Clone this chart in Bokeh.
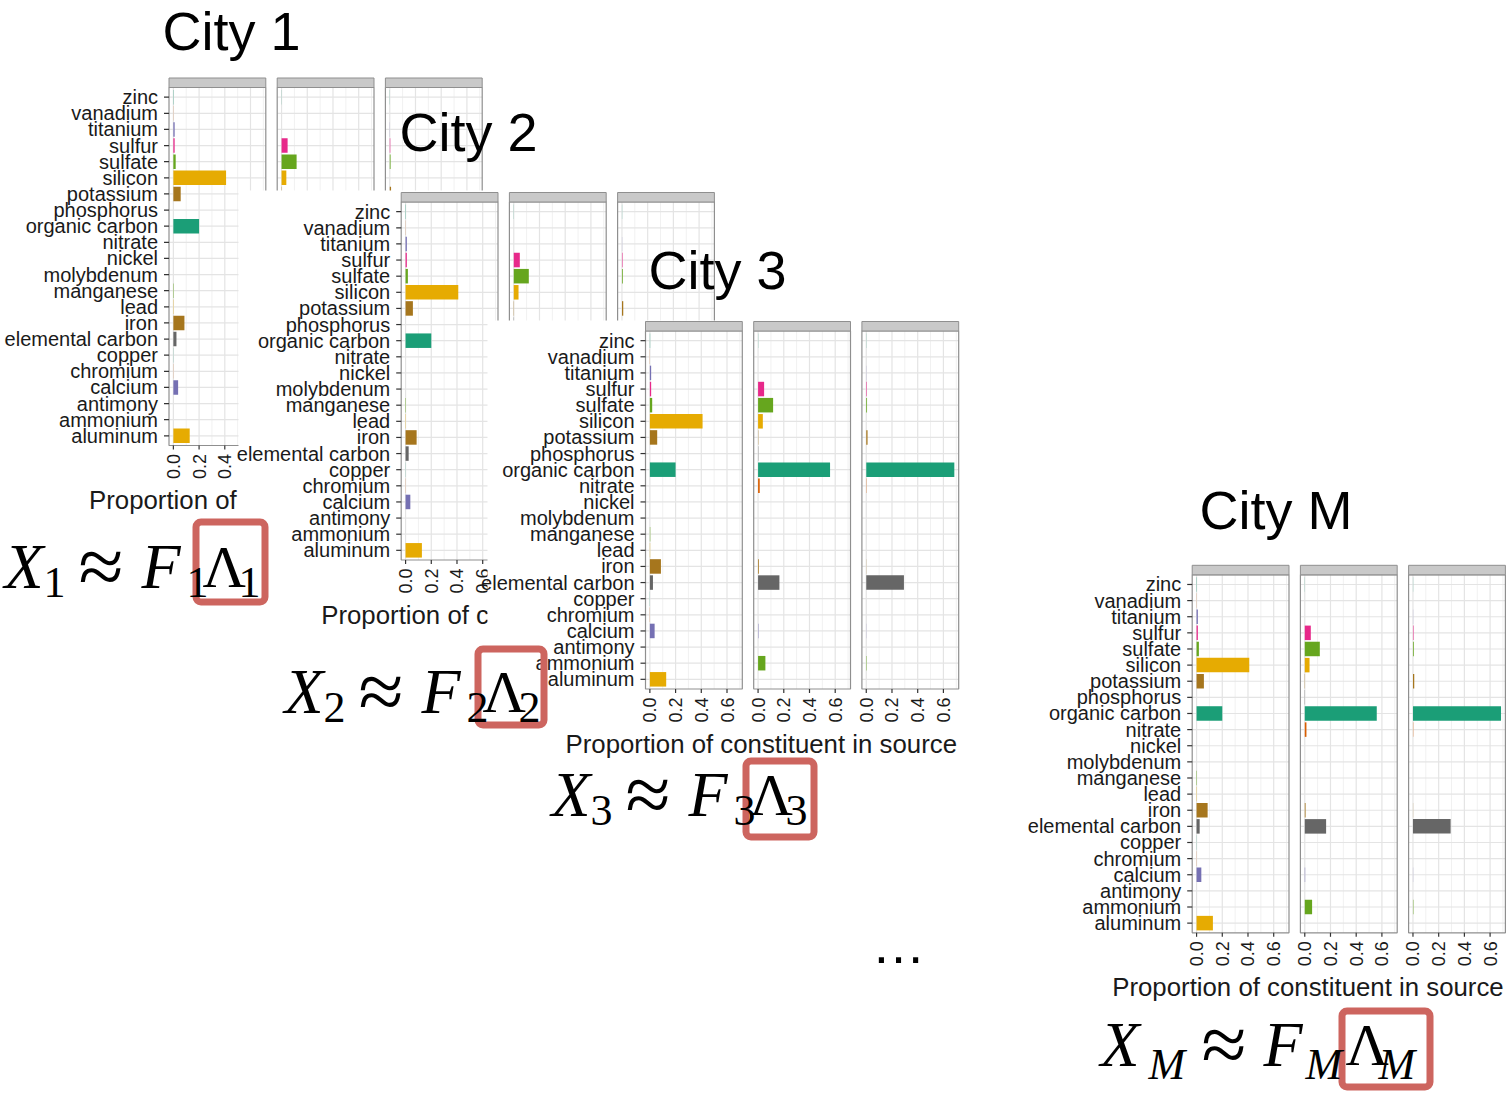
import math
from bokeh.plotting import figure
from bokeh.models import Range1d
from bokeh.core.properties import value
from bokeh.embed import file_html
from bokeh.resources import INLINE

# ---------------- data ----------------
constituents = ["aluminum", "ammonium", "antimony", "calcium", "chromium", "copper",
                "elemental carbon", "iron", "lead", "manganese", "molybdenum", "nickel",
                "nitrate", "organic carbon", "phosphorus", "potassium", "silicon",
                "sulfate", "sulfur", "titanium", "vanadium", "zinc"]
source_1 = [0.127, 0.0, 0.0, 0.037, 0.001, 0.001, 0.024, 0.086, 0.002, 0.003, 0.0, 0.0,
            0.0, 0.200, 0.0, 0.057, 0.410, 0.018, 0.010, 0.010, 0.001, 0.002]
source_2 = [0.0, 0.057, 0.0, 0.003, 0.0, 0.0, 0.166, 0.006, 0.0, 0.0, 0.0, 0.0,
            0.013, 0.560, 0.002, 0.002, 0.037, 0.117, 0.047, 0.0, 0.0, 0.001]
source_3 = [0.0, 0.003, 0.0, 0.001, 0.0, 0.0, 0.293, 0.001, 0.0, 0.0, 0.0, 0.0,
            0.002, 0.685, 0.0, 0.010, 0.0, 0.006, 0.004, 0.001, 0.0, 0.001]
sources = [source_1, source_2, source_3]
bar_colors = ["#E6AB02", "#66A61E", "#E7298A", "#7570B3", "#D95F02", "#1B9E77",
              "#666666", "#A6761D", "#E6AB02", "#66A61E", "#E7298A", "#7570B3",
              "#D95F02", "#1B9E77", "#666666", "#A6761D", "#E6AB02", "#66A61E",
              "#E7298A", "#7570B3", "#D95F02", "#1B9E77"]
x_major = [0.0, 0.2, 0.4, 0.6]
x_minor = [0.1, 0.3, 0.5, 0.7]
tick_labels = ["0.0", "0.2", "0.4", "0.6"]
cities = ["City 1", "City 2", "City 3", "City M"]
axis_title = "Proportion of constituent in source"
axis_title_shown = ["Proportion of", "Proportion of c", axis_title, axis_title]
formula_subs = ["1", "2", "3", "M"]

# ---------------- layout ----------------
W, H = 1506, 1093
SANS = value("Liberation Sans")
SERIF = value("Liberation Serif")
INK = "#1A1A1A"
GRID_MAJ = "#E4E4E4"
GRID_MIN = "#F1F1F1"
BORDER = "#8F8F8F"
STRIP = "#C9C9C9"
RED = "#CD655F"

XS0, XS1 = -0.034, 0.719
YS0, YS1 = 0.4, len(constituents) + 0.6
FACET_L = [645.0, 753.2, 861.4]
FACET_W = 96.8
PANEL_T, PANEL_B = 330.5, 688.5
STRIP_H = 9.5
ypos = list(range(1, len(constituents) + 1))
unit_px = (PANEL_B - PANEL_T) / (YS1 - YS0)
strip_units = STRIP_H / unit_px

city_shift = [(-476.5, -243.5), (-244.3, -129.0), (0.0, 0.0), (546.7, 243.8)]
city_crop = [(8, 77, 484, 517), (238, 190, 718, 640), (487, 320, 962, 762), (1030, 563, 1506, 1000)]
title_pos = [(162, 30), (399, 131), (648, 269.5), (1199, 509)]

p = figure(width=W, height=H, x_range=Range1d(0, W), y_range=Range1d(H, 0),
           output_backend="svg", toolbar_location=None,
           x_axis_location=None, y_axis_location=None,
           min_border=0, outline_line_color=None,
           background_fill_color="white", border_fill_color="white")
p.grid.visible = False


def hidden(ci, px, py):
    for cj in range(ci + 1, len(cities)):
        l, t, r, b = city_crop[cj]
        if l <= px <= r and t <= py <= b:
            return True
    return False


for ci, city in enumerate(cities):
    dx, dy = city_shift[ci]
    l, t, r, b = city_crop[ci]
    p.quad(left=[l], right=[r], top=[t], bottom=[b], fill_color="white", line_color=None)
    T = PANEL_T + dy
    B = PANEL_B + dy
    for fi, vals in enumerate(sources):
        L = FACET_L[fi] + dx
        R = L + FACET_W
        sp = p.subplot(x_source=Range1d(XS0, XS1), y_source=Range1d(YS0, YS1),
                       x_target=Range1d(L, R), y_target=Range1d(B, T))
        sp.quad(left=XS0, right=XS1, bottom=YS0, top=YS1, fill_color="white", line_color=None)
        sp.segment(x0=x_minor, y0=YS0, x1=x_minor, y1=YS1, line_color=GRID_MIN, line_width=1)
        sp.segment(x0=x_major, y0=YS0, x1=x_major, y1=YS1, line_color=GRID_MAJ, line_width=1.2)
        sp.segment(x0=XS0, y0=ypos, x1=XS1, y1=ypos, line_color=GRID_MAJ, line_width=1.2)
        sp.hbar(y=ypos, left=0, right=vals, height=0.9, fill_color=bar_colors, line_color=None)
        sp.quad(left=XS0, right=XS1, bottom=YS0, top=YS1, fill_color=None,
                line_color=BORDER, line_width=1.2)
        sp.quad(left=XS0, right=XS1, bottom=YS1, top=YS1 + strip_units,
                fill_color=STRIP, line_color=BORDER, line_width=1)

        # x axis ticks + labels
        xt = p.subplot(x_source=Range1d(XS0, XS1), y_source=Range1d(0, 1),
                       x_target=Range1d(L, R), y_target=Range1d(B, B + 4))
        xt.segment(x0=x_major, y0=0, x1=x_major, y1=1, line_color="#333333", line_width=1.2)
        vis_x, vis_t = [], []
        for v, lab in zip(x_major, tick_labels):
            px = L + (v - XS0) / (XS1 - XS0) * FACET_W
            if not hidden(ci, px, B + 12):
                vis_x.append(v)
                vis_t.append(lab)
        if vis_x:
            xt.text(x=vis_x, y=[1] * len(vis_x), text=vis_t, angle=math.pi / 2,
                    text_align="right", text_baseline="middle", y_offset=4.5,
                    text_font=SANS, text_font_size="18px", text_color=INK)

        if fi == 0:
            yt = p.subplot(x_source=Range1d(0, 1), y_source=Range1d(YS0, YS1),
                           x_target=Range1d(L - 5, L), y_target=Range1d(B, T))
            yt.segment(x0=0, y0=ypos, x1=1, y1=ypos, line_color="#333333", line_width=1.2)
            sp.text(x=[XS0] * len(ypos), y=ypos, text=constituents, x_offset=-11,
                    text_align="right", text_baseline="middle",
                    text_font=SANS, text_font_size="20px", text_color=INK)

    # axis title
    p.text(x=[FACET_L[0] + dx - 80], y=[743 + dy], text=[axis_title_shown[ci]],
           text_align="left", text_baseline="middle",
           text_font=SANS, text_font_size="25.8px", text_color=INK)

# city titles
for ci, city in enumerate(cities):
    tx, ty = title_pos[ci]
    p.text(x=[tx], y=[ty], text=[city], text_align="left", text_baseline="middle",
           text_font=SANS, text_font_size="54px", text_color="black")

# formulas  X_i ≈ F_i Λ_i
formula_origin = [(3, 587), (283, 712), (550, 815), (1100, 1065)]
formula_boxes = [(192, 518, 268, 605), (474, 645, 547, 728), (742, 757, 817, 840), (1338, 1007, 1433, 1090)]
digit_offsets = [1, 40, 75, 138, 183, 199, 235]
m_offsets = [0, 48, 101, 163, 205, 245, 278]
for k in range(len(formula_subs)):
    bl, bt, br, bb = formula_boxes[k]
    p.quad(left=[bl + 3.5], right=[br - 3.5], top=[bt + 3.5], bottom=[bb - 3.5],
           fill_color=None, line_color=RED, line_width=7, border_radius=5)
for k, sub in enumerate(formula_subs):
    x0, base = formula_origin[k]
    offs = m_offsets if sub == "M" else digit_offsets
    sub_style = "italic" if sub == "M" else "normal"
    sub_drop = 14 if sub == "M" else 10
    p.text(x=[x0 + offs[0], x0 + offs[3]], y=[base - 21.5] * 2, text=["X", "F"],
           text_align="left", text_baseline="middle", text_font=SERIF,
           text_font_style="italic", text_font_size="64px", text_color="black")
    p.text(x=[x0 + offs[5]], y=[base - 20.5], text=["\u039B"],
           text_align="left", text_baseline="middle", text_font=SERIF,
           text_font_style="normal", text_font_size="60px", text_color="black")
    p.text(x=[x0 + offs[2]], y=[base - 21], text=["\u2248"],
           text_align="left", text_baseline="middle", text_font=SERIF,
           text_font_style="normal", text_font_size="82px", text_color="black")
    p.text(x=[x0 + offs[1], x0 + offs[4], x0 + offs[6]], y=[base + sub_drop - 15] * 3,
           text=[sub] * 3, text_align="left", text_baseline="middle", text_font=SERIF,
           text_font_style=sub_style, text_font_size="44px", text_color="black")

# ellipsis
p.text(x=[898], y=[943], text=["\u2026"], text_align="center", text_baseline="middle",
       text_font=SANS, text_font_size="54px", text_color="black")

open("out.html", "w").write(file_html(p, INLINE))
